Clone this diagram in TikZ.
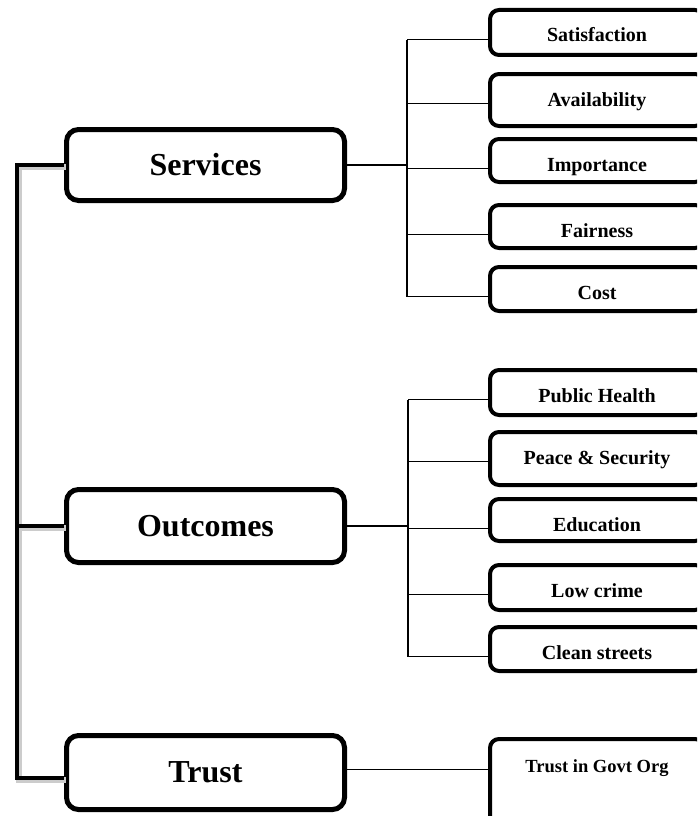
\documentclass[tikz,border=0pt]{standalone}
\usepackage{fontspec}
\setmainfont{Liberation Serif}
\usepackage{tikz}
\usetikzlibrary{positioning,calc}

\begin{document}
\begin{tikzpicture}[x=1pt,y=-1pt,
    mainbox/.style={draw, line width=5pt, rounded corners=12pt, minimum width=278pt,
        font=\fontsize{32}{36}\selectfont\bfseries},
    subbox/.style={draw, line width=4pt, rounded corners=9pt, minimum width=214pt,
        inner sep=0pt, text height=32pt, text depth=#1, anchor=north west,
        font=\fontsize{20}{24}\selectfont\bfseries},
    link/.style={line width=1.4pt},
    spine/.style={line width=4.5pt,
        preaction={draw=black!20, line width=6pt, transform canvas={xshift=1.5pt, yshift=-1.5pt}}}]
    \clip (0,0) rectangle (697,816);

    % Main categories
    \node[mainbox, minimum height=71pt] (services) at (205.5,165) {Services};
    \node[mainbox, minimum height=73pt] (outcomes) at (205.5,526) {Outcomes};
    \node[mainbox, minimum height=74pt] (trust) at (205.5,772.5) {Trust};

    % Spine on the left
    \coordinate (spinebot) at (17,778);
    \draw[spine] (services.west) -| (spinebot) -- (spinebot -| trust.west);
    \draw[spine] (outcomes.west) -- (outcomes.west -| spinebot);

    % Services items
    \node[subbox=13pt] (satisfaction) at (488,8) {Satisfaction};
    \node[subbox=20pt] (availability) at (488,72) {Availability};
    \node[subbox=11pt] (importance) at (488,137) {Importance};
    \node[subbox=11pt] (fairness) at (488,203) {Fairness};
    \node[subbox=12pt] (cost) at (488,265) {Cost};

    \coordinate (sbar) at (407,0);
    \draw[link] (satisfaction.mid west -| sbar) -- (cost.mid west -| sbar);
    \draw[link] (services.east) -- (services.east -| sbar);
    \draw[link] (satisfaction.mid west -| sbar) -- (satisfaction.mid west);
    \draw[link] (availability.mid west -| sbar) -- (availability.mid west);
    \draw[link] (importance.mid west -| sbar) -- (importance.mid west);
    \draw[link] (fairness.mid west -| sbar) -- (fairness.mid west);
    \draw[link] (cost.mid west -| sbar) -- (cost.mid west);

    % Outcomes items
    \node[subbox=13pt] (health) at (488,368) {Public Health};
    \node[subbox=21pt] (peace) at (488,430) {Peace \& Security};
    \node[subbox=10pt] (education) at (488,497) {Education};
    \node[subbox=13pt] (crime) at (488,563) {Low crime};
    \node[subbox=12pt] (streets) at (488,625) {Clean streets};

    \coordinate (obar) at (408,0);
    \draw[link] (health.mid west -| obar) -- (streets.mid west -| obar);
    \draw[link] (outcomes.east) -- (outcomes.east -| obar);
    \draw[link] (health.mid west -| obar) -- (health.mid west);
    \draw[link] (peace.mid west -| obar) -- (peace.mid west);
    \draw[link] (education.mid west -| obar) -- (education.mid west);
    \draw[link] (crime.mid west -| obar) -- (crime.mid west);
    \draw[link] (streets.mid west -| obar) -- (streets.mid west);

    % Trust item
    \node[subbox=90pt, text height=33pt, font=\fontsize{18.5}{22}\selectfont\bfseries] (govt) at (488,737) {Trust in Govt Org};
    \draw[link] (govt.mid west -| trust.east) -- (govt.mid west);
\end{tikzpicture}
\end{document}
